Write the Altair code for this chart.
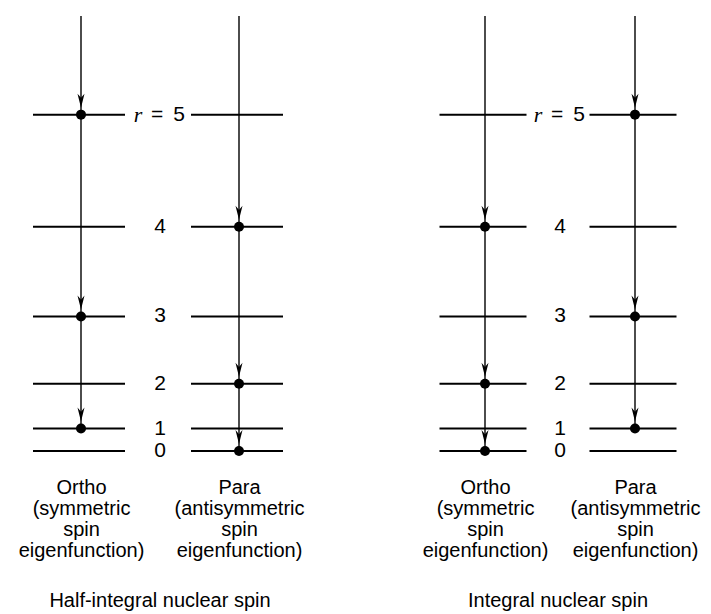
import json
import altair as alt
import pandas as pd

# ---- data ----
levels = [0, 1, 2, 3, 4, 5]
energies = [0, 2, 6, 12, 20, 30]          # level heights (rotational energy ~ r(r+1))
top_energy = 38.8                          # where the descending lines start
level_labels = ["0", "1", "2", "3", "4", "5"]
top_symbol = "r"
top_equals = "="

panel_titles = ["Half-integral nuclear spin", "Integral nuclear spin"]
columns = ["Ortho", "Para"]
ortho_lines = ["Ortho", "(symmetric", "spin", "eigenfunction)"]
para_lines = ["Para", "(antisymmetric", "spin", "eigenfunction)"]

half_ortho_occupied = [1, 3, 5]
half_para_occupied = [0, 2, 4]
int_ortho_occupied = [0, 2, 4]
int_para_occupied = [1, 3, 5]

FONT = "Liberation Sans"
E = dict(zip(levels, energies))
ARROW = "M-0.5,-1L0,1L0.5,-1L0,-0.4Z"

label_expr = (
    "datum.value == 'Ortho' ? " + json.dumps(ortho_lines)
    + " : datum.value == 'Para' ? " + json.dumps(para_lines) + " : ''"
)


def panel(title, occ, width, x_range, tick_len):
    lev = pd.DataFrame([{"col": c, "r": r, "E": E[r]} for c in columns for r in levels])
    dots = pd.DataFrame([{"col": c, "r": r, "E": E[r]} for c in columns for r in occ[c]])
    vl = pd.DataFrame([{"col": c, "E": E[min(occ[c])], "top": top_energy} for c in columns])
    lab = pd.DataFrame([{"col": "mid", "r": r, "E": E[r], "text": t}
                        for r, t in zip(levels, level_labels)])
    lab_low = lab[lab["r"] < 5]
    lab_top = lab[lab["r"] == 5]

    x = alt.X(
        "col:N",
        scale=alt.Scale(type="point", domain=["Ortho", "mid", "Para"], range=x_range,
                        padding=0),
        axis=alt.Axis(
            title=None, domain=False, ticks=False, grid=False, labelAngle=0,
            labelExpr=label_expr, labelFont=FONT, labelFontSize=20,
            labelColor="black", labelLineHeight=21, labelPadding=26,
            labelOverlap=False, labelFlush=False,
        ),
    )
    y = alt.Y("E:Q", scale=alt.Scale(domain=[0, top_energy], nice=False, zero=True), axis=None)

    ticks = alt.Chart(lev).mark_tick(
        orient="horizontal", size=tick_len, thickness=2, color="black", opacity=1, xOffset=-2
    ).encode(x=x, y=y)
    rules = alt.Chart(vl).mark_rule(color="black", strokeWidth=1.4).encode(
        x=x, y=y, y2="top:Q"
    )
    pts = alt.Chart(dots).mark_circle(size=100, color="black", opacity=1).encode(x=x, y=y)
    arrows = alt.Chart(dots).mark_point(
        shape=ARROW, filled=True, size=196, color="black", opacity=1, yOffset=-14
    ).encode(x=x, y=y)
    nums = alt.Chart(lab_low).mark_text(
        font=FONT, fontSize=21, color="black", baseline="middle"
    ).encode(x=x, y=y, text="text:N")
    five = alt.Chart(lab_top).mark_text(
        font=FONT, fontSize=21, color="black", baseline="middle", dx=19
    ).encode(x=x, y=y, text="text:N")
    eq = alt.Chart(lab_top).mark_text(
        font=FONT, fontSize=21, color="black", baseline="middle", dx=-3
    ).encode(x=x, y=y, text=alt.value(top_equals))
    rsym = alt.Chart(lab_top).mark_text(
        font="Liberation Serif", fontStyle="italic", fontSize=22, color="black",
        baseline="middle", dx=-22
    ).encode(x=x, y=y, text=alt.value(top_symbol))

    return alt.layer(ticks, rules, pts, arrows, nums, five, eq, rsym).properties(
        width=width, height=435,
        title=alt.TitleParams(
            text=title, orient="bottom", anchor="middle", frame="group",
            font=FONT, fontSize=20, fontWeight="normal", color="black", offset=31,
        ),
    )


left = panel(panel_titles[0], {"Ortho": half_ortho_occupied, "Para": half_para_occupied},
             294, [68, 226], 92)
right = panel(panel_titles[1], {"Ortho": int_ortho_occupied, "Para": int_para_occupied},
              276, [65, 215], 87)

chart = alt.hconcat(left, right, spacing=113).properties(
    padding={"left": 5, "top": 7, "right": 0, "bottom": 0}
).configure_view(strokeWidth=0, stroke="transparent")

chart.save("out.html", embed_options={"renderer": "svg", "actions": False})
